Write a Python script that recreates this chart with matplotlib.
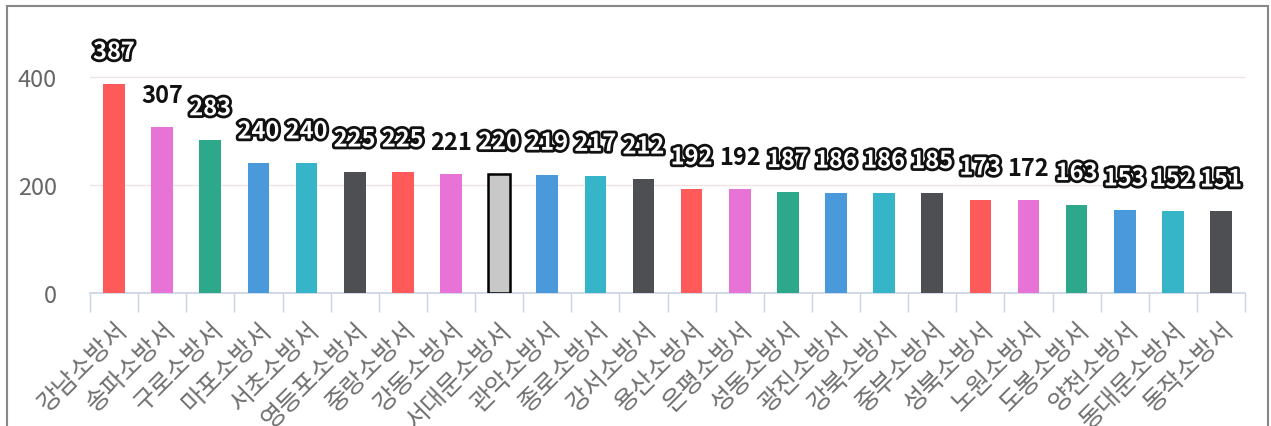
import matplotlib
matplotlib.use("Agg")
import matplotlib.pyplot as plt
import matplotlib.patheffects as pe
from matplotlib.patches import Rectangle
import numpy as np

plt.rcParams['font.family'] = ['Noto Sans CJK KR', 'DejaVu Sans']

stations = ["강남소방서", "송파소방서", "구로소방서", "마포소방서", "서초소방서", "영등포소방서",
            "중랑소방서", "강동소방서", "서대문소방서", "관악소방서", "종로소방서", "강서소방서",
            "용산소방서", "은평소방서", "성동소방서", "광진소방서", "강북소방서", "중부소방서",
            "성북소방서", "노원소방서", "도봉소방서", "양천소방서", "동대문소방서", "동작소방서"]
values = [387, 307, 283, 240, 240, 225, 225, 221, 220, 219, 217, 212,
          192, 192, 187, 186, 186, 185, 173, 172, 163, 153, 152, 151]
yticks = [0, 200, 400]

palette = ["#FF5A5A", "#E873D6", "#2EA88A", "#4A9ADB", "#36B4C8", "#4D4F53"]
highlight_idx = 8

fig = plt.figure(figsize=(12.71, 4.27), dpi=100)
ax = fig.add_axes([0.0708, 0.3115, 0.9088, 0.569])

x = np.arange(len(stations))
colors = [palette[i % 6] for i in range(len(stations))]
colors[highlight_idx] = "#C8C8C8"
edges = ["none"] * len(stations)
edges[highlight_idx] = "black"
lws = [0] * len(stations)
lws[highlight_idx] = 1.8

ax.bar(x, values, width=0.45, color=colors, edgecolor=edges, linewidth=lws, zorder=3)

for i, v in enumerate(values):
    if i % 6 == 1:
        ax.annotate(str(v), (i, v), xytext=(0, 23), textcoords="offset points",
                    ha="center", va="center", fontsize=17, fontweight="bold",
                    color="#111111", zorder=5)
    else:
        ax.annotate(str(v), (i, v), xytext=(0, 23), textcoords="offset points",
                    ha="center", va="center", fontsize=17, fontweight="bold",
                    color="white", zorder=5,
                    path_effects=[pe.withStroke(linewidth=4, foreground="#111111")])

ax.set_xlim(-0.5, len(stations) - 0.5)
ax.set_ylim(0, 450)
ax.set_yticks(yticks)
ax.set_yticklabels([str(t) for t in yticks], fontsize=17, color="#666666")
ax.tick_params(axis="y", length=0, pad=24)
ax.grid(axis="y", color="#EFE3E3", linewidth=1, zorder=0)
ax.set_axisbelow(True)

ax.set_xticks(x)
ax.set_xticklabels(stations, rotation=45, ha="right", rotation_mode="anchor",
                   fontsize=18, color="#707070")
ax.tick_params(axis="x", length=0, pad=17)
ax.set_xticks(np.arange(-0.5, len(stations), 1), minor=True)
ax.tick_params(axis="x", which="minor", length=14, color="#C9D3E6", width=1)

for s in ["top", "right", "left"]:
    ax.spines[s].set_visible(False)
ax.spines["bottom"].set_color("#C9D3E6")
ax.spines["bottom"].set_linewidth(1.2)

fig.patches.append(Rectangle((7 / 1271, -0.1), (1268 - 7) / 1271, 1.1 - 7 / 427,
                             transform=fig.transFigure, fill=False,
                             edgecolor="#888888", linewidth=1.5))

fig.savefig("out.png", dpi=100)
